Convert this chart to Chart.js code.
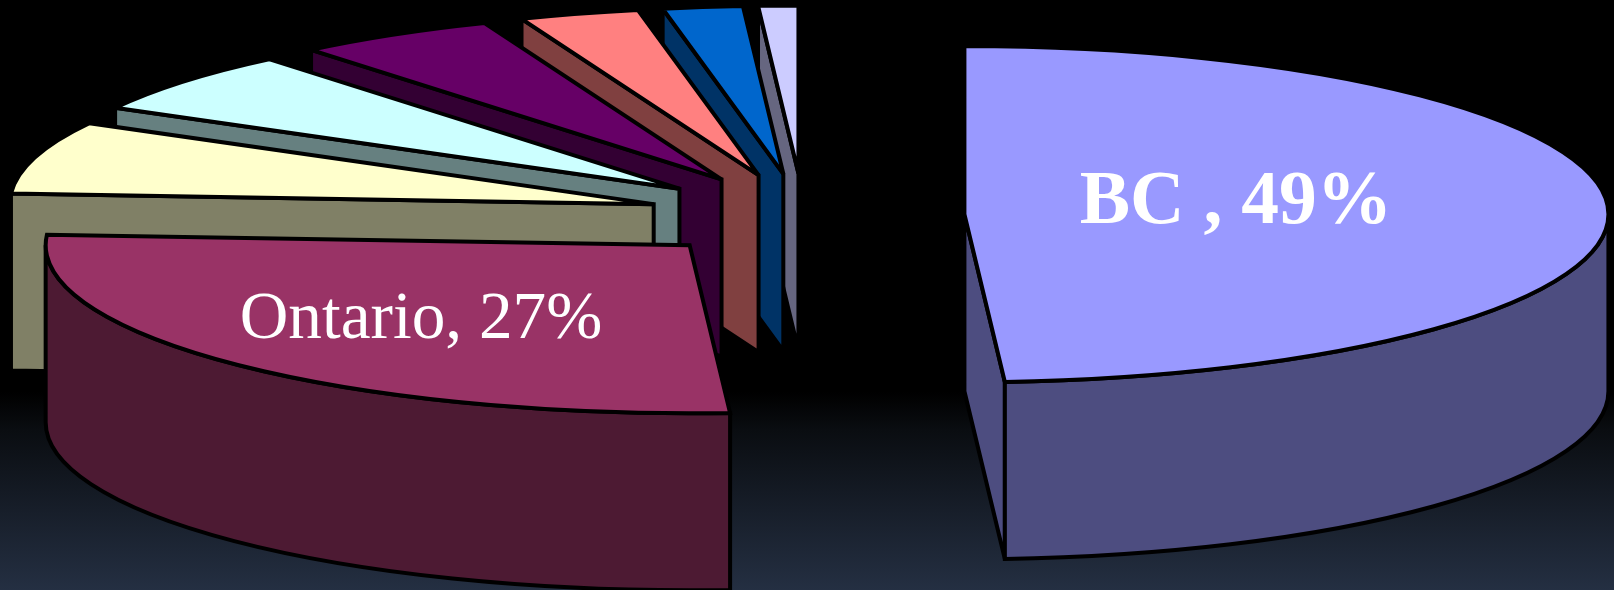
<!DOCTYPE html>
<html>
<head>
<meta charset="utf-8">
<title>Share by province</title>
<script src="https://cdn.jsdelivr.net/npm/chart.js@4"></script>
<style>
    html, body { margin: 0; padding: 0; }
    body {
        width: 1614px;
        height: 590px;
        overflow: hidden;
        background: linear-gradient(to bottom, #000 0, #000 392px, #0a0d11 430px, #242f42 590px);
    }
    canvas { display: block; }
</style>
</head>
<body>
<canvas id="pieChartCanvas" width="1614" height="590"></canvas>
<script>
let categories = ['BC ', 'Ontario', 'Group 3', 'Group 4', 'Group 5', 'Group 6', 'Group 7', 'Group 8'];
let shares = [49, 27, 7, 6, 5, 3, 2, 1];
let topColors = ['#9999ff', '#993366', '#ffffcc', '#ccffff', '#660066', '#ff8080', '#0066cc', '#ccccff'];
let sideColors = ['#4d4d80', '#4d1a33', '#808066', '#668080', '#330033', '#804040', '#003366', '#666680'];
let explode = [161, 161, 156, 161, 161, 161, 161, 161];

// only the two big slices carry a label
let labelStyles = [
    { font: 'bold 75.5px "Liberation Serif"', x: 1236, y: 223 },
    { font: '67.3px "Liberation Serif"', x: 421, y: 338 }
];

const squash = 0.261;
const depth = 177;

// the library lays out a round pie, this draws it tilted with side walls
let tiltedPie = {
    id: 'tiltedPie',
    beforeDatasetsDraw: function (chart) {
        let ctx = chart.ctx;
        let arcs = chart.getDatasetMeta(0).data.map(function (arc, index) {
            return { arc: arc, index: index, mid: (arc.startAngle + arc.endAngle) / 2 };
        });
        // back slices first so the front ones cover them
        arcs.sort(function (a, b) { return Math.sin(a.mid) - Math.sin(b.mid); });

        ctx.save();
        ctx.lineJoin = 'miter';
        ctx.miterLimit = 3;
        arcs.forEach(function (item) {
            let arc = item.arc;
            let r = arc.outerRadius;
            let off = arc.options.offset;
            let cx = arc.x + Math.cos(item.mid) * off;
            let cy = arc.y + (Math.sin(item.mid) * off) * squash;
            let a1 = arc.startAngle;
            let a2 = arc.endAngle;
            let px = function (a) { return cx + Math.cos(a) * r; };
            let py = function (a) { return cy + Math.sin(a) * r * squash; };

            ctx.lineWidth = arc.options.borderWidth;
            ctx.strokeStyle = arc.options.borderColor;
            ctx.fillStyle = sideColors[item.index];

            // flat cut faces, only the ones turned to the viewer
            [[a1, Math.cos(a1) < 0], [a2, Math.cos(a2) > 0]].forEach(function (face) {
                if (!face[1]) return;
                ctx.beginPath();
                ctx.moveTo(cx, cy);
                ctx.lineTo(px(face[0]), py(face[0]));
                ctx.lineTo(px(face[0]), py(face[0]) + depth);
                ctx.lineTo(cx, cy + depth);
                ctx.closePath();
                ctx.fill();
                ctx.stroke();
            });

            // rounded outer wall on the near half of the pie
            let w1 = Math.max(a1, 0);
            let w2 = Math.min(a2, Math.PI);
            if (w2 > w1) {
                ctx.beginPath();
                ctx.ellipse(cx, cy, r, r * squash, 0, w1, w2);
                ctx.ellipse(cx, cy + depth, r, r * squash, 0, w2, w1, true);
                ctx.closePath();
                ctx.fill();
                ctx.stroke();
            }

            ctx.beginPath();
            ctx.moveTo(cx, cy);
            ctx.ellipse(cx, cy, r, r * squash, 0, a1, a2);
            ctx.closePath();
            ctx.fillStyle = arc.options.backgroundColor;
            ctx.fill();
            ctx.stroke();
        });
        ctx.restore();
        return false;
    },
    afterDraw: function (chart) {
        let ctx = chart.ctx;
        ctx.save();
        ctx.fillStyle = '#ffffff';
        ctx.textAlign = 'center';
        ctx.textBaseline = 'alphabetic';
        labelStyles.forEach(function (style, index) {
            ctx.font = style.font;
            ctx.fillText(categories[index] + ', ' + shares[index] + '%', style.x, style.y);
        });
        ctx.restore();
    }
};

let pieChartDraw = function () {
    let ctx = document.getElementById('pieChartCanvas').getContext('2d');

    window.pieChart = new Chart(ctx, {
        type: 'pie',
        data: {
            labels: categories,
            datasets: [{
                data: shares,
                backgroundColor: topColors,
                borderColor: '#000000',
                borderWidth: 4,
                offset: explode
            }]
        },
        options: {
            responsive: false,
            animation: false,
            radius: 644,
            layout: { padding: { right: 7, bottom: 159 } },
            events: [],
            plugins: {
                legend: { display: false },
                tooltip: { enabled: false }
            }
        },
        plugins: [tiltedPie]
    });
};

pieChartDraw();
</script>
</body>
</html>
